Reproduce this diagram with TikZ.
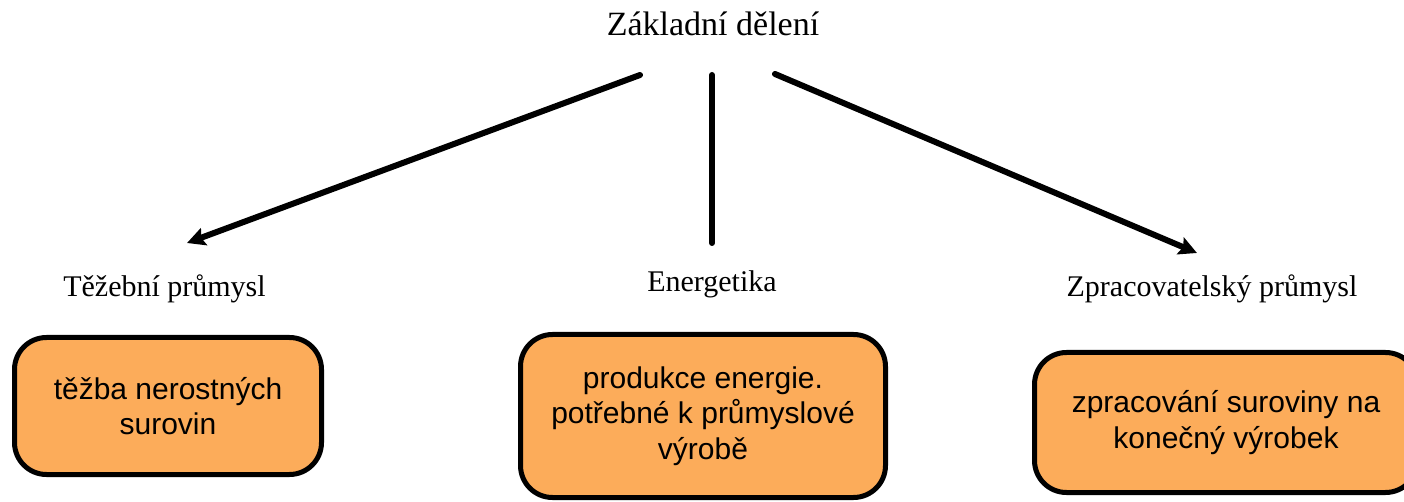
\documentclass[tikz,border=0pt]{standalone}
\usepackage{fontspec}
\setmainfont{Liberation Serif}
\newfontfamily\boxfont{Liberation Sans}
\usetikzlibrary{arrows.meta}
\definecolor{boxorange}{RGB}{252,172,90}
\tikzset{
  title/.style={anchor=base, inner sep=0pt, font=\fontsize{17}{20}\selectfont},
  cat/.style={anchor=base, inner sep=0pt, font=\fontsize{15}{18}\selectfont},
  descbox/.style={draw=black, line width=2.5pt, fill=boxorange, rounded corners=16pt,
    inner sep=0pt, align=center, font=\boxfont\fontsize{15}{17.8}\selectfont},
  conn/.style={line width=3pt, line cap=round},
  arr/.style={conn, -{Stealth[length=9pt,width=9pt,inset=1.5pt]}}
}
\begin{document}
\begin{tikzpicture}[x=0.5pt,y=-0.5pt]
\useasboundingbox (0,0) rectangle (1404,502);
\clip (0,0) rectangle (1404,502);
\node[title] (root) at (713,36) {Základní dělení};
\node[cat] (t1) at (164.5,297) {Těžební průmysl};
\node[cat] (t2) at (712,292) {Energetika};
\node[cat] (t3) at (1212,297) {Zpracovatelský průmysl};

\coordinate (s1) at (640,75);
\coordinate (s2) at (712,75);
\coordinate (s3) at (775,74);
\coordinate (e1) at (187,243);
\coordinate (e2) at (712,243);
\coordinate (e3) at (1197,253);
\draw[arr] (s1) -- (e1);
\draw[conn] (s2) -- (e2);
\draw[arr] (s3) -- (e3);

\node[descbox, minimum width=153.5pt, minimum height=68.5pt] (b1) at (168,406)
  {těžba nerostných\\surovin};
\node[descbox, minimum width=182.5pt, minimum height=81.5pt] (b2) at (703,416)
  {produkce energie.\\potřebné k průmyslové\\výrobě};
\node[descbox, minimum width=191.5pt, minimum height=70pt] (b3) at (1226,422.5)
  {zpracování suroviny na\\konečný výrobek};
\end{tikzpicture}
\end{document}
